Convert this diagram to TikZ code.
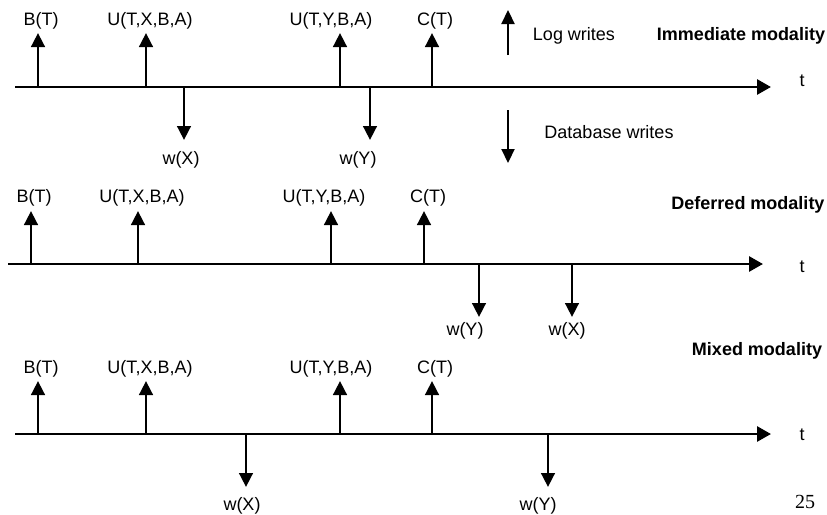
\documentclass[tikz,border=0pt]{standalone}
\usepackage{fontspec}
\setmainfont{Liberation Sans}
\newfontfamily\numfont{Liberation Serif}
\usetikzlibrary{arrows.meta}
\begin{document}
\begin{tikzpicture}[x=1pt,y=-1pt,
  lbl/.style={anchor=base,inner sep=0pt,font=\fontsize{18}{21}\selectfont},
  ttl/.style={lbl,font=\fontsize{18}{21}\selectfont\bfseries},
  axisline/.style={line width=2.8pt,-{Triangle[length=14pt,width=15pt]}},
  evarrow/.style={line width=2.8pt,-{Triangle[length=14pt,width=13.5pt]}},
  keyarrow/.style={line width=2.2pt,-{Triangle[length=14pt,width=13pt]}}]
\useasboundingbox (0,0) rectangle (827,514);

% ---------- Panel 1: Immediate modality ----------
\coordinate (a1s) at (15,87);  \coordinate (a1e) at (771,87);
\draw[axisline] (a1s) -- (a1e);
\node[lbl] (t1) at (802,86) {t};
\coordinate (p1b) at (38,87);  \coordinate (p1bt) at (38,33);
\coordinate (p1x) at (146,87); \coordinate (p1xt) at (146,33);
\coordinate (p1y) at (340,87); \coordinate (p1yt) at (340,33);
\coordinate (p1c) at (432,87); \coordinate (p1ct) at (432,33);
\coordinate (p1wx) at (184,87); \coordinate (p1wxt) at (184,140);
\coordinate (p1wy) at (370,87); \coordinate (p1wyt) at (370,140);
\draw[evarrow] (p1b) -- (p1bt);
\draw[evarrow] (p1x) -- (p1xt);
\draw[evarrow] (p1y) -- (p1yt);
\draw[evarrow] (p1c) -- (p1ct);
\draw[evarrow] (p1wx) -- (p1wxt);
\draw[evarrow] (p1wy) -- (p1wyt);
\node[lbl] (l1b) at (41,25) {B(T)};
\node[lbl] (l1x) at (150,25) {U(T,X,B,A)};
\node[lbl] (l1y) at (331,25) {U(T,Y,B,A)};
\node[lbl] (l1c) at (435,25) {C(T)};
\node[lbl] (l1wx) at (181,164) {w(X)};
\node[lbl] (l1wy) at (358,164) {w(Y)};
\node[ttl] (m1) at (741,40) {Immediate modality};
% key
\coordinate (klogs) at (508,55); \coordinate (kloge) at (508,10);
\coordinate (kdbs) at (508,110); \coordinate (kdbe) at (508,163);
\draw[keyarrow] (klogs) -- (kloge);
\draw[keyarrow] (kdbs) -- (kdbe);
\node[lbl] (klog) at (574,40) {Log writes};
\node[lbl] (kdb) at (609,138) {Database writes};

% ---------- Panel 2: Deferred modality ----------
\coordinate (a2s) at (8,264);  \coordinate (a2e) at (763,264);
\draw[axisline] (a2s) -- (a2e);
\node[lbl] (t2) at (802,272) {t};
\coordinate (p2b) at (31,264);  \coordinate (p2bt) at (31,211);
\coordinate (p2x) at (138,264); \coordinate (p2xt) at (138,211);
\coordinate (p2y) at (331,264); \coordinate (p2yt) at (331,211);
\coordinate (p2c) at (424,264); \coordinate (p2ct) at (424,211);
\coordinate (p2wy) at (479,264); \coordinate (p2wyt) at (479,317);
\coordinate (p2wx) at (572,264); \coordinate (p2wxt) at (572,317);
\draw[evarrow] (p2b) -- (p2bt);
\draw[evarrow] (p2x) -- (p2xt);
\draw[evarrow] (p2y) -- (p2yt);
\draw[evarrow] (p2c) -- (p2ct);
\draw[evarrow] (p2wy) -- (p2wyt);
\draw[evarrow] (p2wx) -- (p2wxt);
\node[lbl] (l2b) at (34,202) {B(T)};
\node[lbl] (l2x) at (142,202) {U(T,X,B,A)};
\node[lbl] (l2y) at (324,202) {U(T,Y,B,A)};
\node[lbl] (l2c) at (428,202) {C(T)};
\node[lbl] (l2wy) at (465,335) {w(Y)};
\node[lbl] (l2wx) at (567,335) {w(X)};
\node[ttl] (m2) at (748,209) {Deferred modality};

% ---------- Panel 3: Mixed modality ----------
\coordinate (a3s) at (15,434);  \coordinate (a3e) at (771,434);
\draw[axisline] (a3s) -- (a3e);
\node[lbl] (t3) at (802,440) {t};
\coordinate (p3b) at (38,434);  \coordinate (p3bt) at (38,381);
\coordinate (p3x) at (146,434); \coordinate (p3xt) at (146,381);
\coordinate (p3y) at (340,434); \coordinate (p3yt) at (340,381);
\coordinate (p3c) at (432,434); \coordinate (p3ct) at (432,381);
\coordinate (p3wx) at (246,434); \coordinate (p3wxt) at (246,487);
\coordinate (p3wy) at (548,434); \coordinate (p3wyt) at (548,487);
\draw[evarrow] (p3b) -- (p3bt);
\draw[evarrow] (p3x) -- (p3xt);
\draw[evarrow] (p3y) -- (p3yt);
\draw[evarrow] (p3c) -- (p3ct);
\draw[evarrow] (p3wx) -- (p3wxt);
\draw[evarrow] (p3wy) -- (p3wyt);
\node[lbl] (l3b) at (41,373) {B(T)};
\node[lbl] (l3x) at (150,373) {U(T,X,B,A)};
\node[lbl] (l3y) at (331,373) {U(T,Y,B,A)};
\node[lbl] (l3c) at (435,373) {C(T)};
\node[lbl] (l3wx) at (242,510) {w(X)};
\node[lbl] (l3wy) at (538,510) {w(Y)};
\node[ttl] (m3) at (757,355) {Mixed modality};

\node[lbl,font=\fontsize{20}{23}\selectfont\numfont] (pg) at (805,508) {25};
\end{tikzpicture}
\end{document}
